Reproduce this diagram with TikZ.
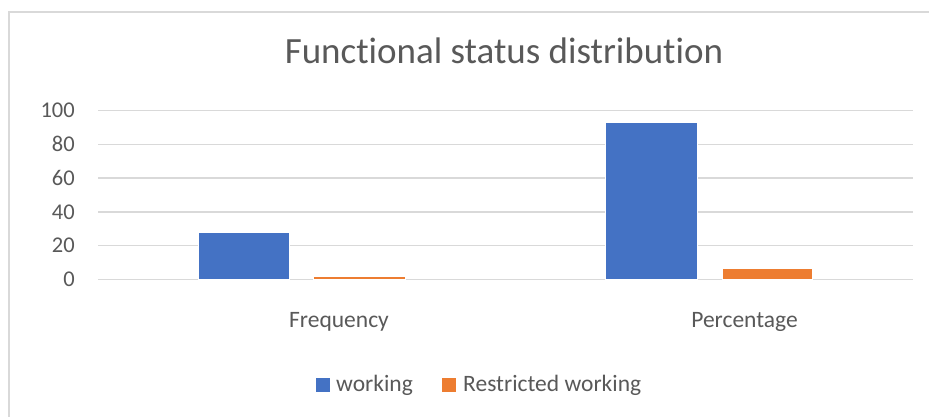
\documentclass[tikz,border=0pt]{standalone}
\usepackage{fontspec}
\setmainfont{Carlito}[Ligatures=NoCommon]
\usetikzlibrary{positioning}

\definecolor{wkblue}{HTML}{4472C4}
\definecolor{rsorange}{HTML}{ED7D31}
\definecolor{txtgray}{HTML}{595959}
\definecolor{gridgray}{HTML}{D9D9D9}

\begin{document}
\begin{tikzpicture}[x=1pt,y=-1pt,
 grid/.style={draw=gridgray,line width=1.5pt},
 tick/.style={anchor=base east,text=txtgray,font=\fontsize{22.5}{26}\selectfont,inner sep=0pt},
 cat/.style={anchor=base,text=txtgray,font=\fontsize{23.5}{27}\selectfont,inner sep=0pt},
 key/.style={anchor=base west,text=txtgray,font=\fontsize{23.5}{27}\selectfont,inner sep=0pt},
 bar/.style={draw=white,line width=0.6pt}]
\useasboundingbox[fill=white] (0,0) rectangle (929,417);
% chart frame
\draw[gridgray,line width=2pt] (8.5,417) -- (8.5,12) -- (929,12);
\node[anchor=base,text=txtgray,font=\fontsize{37}{44}\selectfont,inner sep=0pt] (title) at (504,63.3) {Functional status distribution};
% gridlines and value axis
\draw[grid] (98,279.3) -- (913,279.3); \node[tick] (t0) at (75,286.5) {0};
\draw[grid] (98,245.6) -- (913,245.6); \node[tick] (t20) at (75,252.8) {20};
\draw[grid] (98,211.9) -- (913,211.9); \node[tick] (t40) at (75,219.1) {40};
\draw[grid] (98,178.1) -- (913,178.1); \node[tick] (t60) at (75,185.3) {60};
\draw[grid] (98,144.4) -- (913,144.4); \node[tick] (t80) at (75,151.6) {80};
\draw[grid] (98,110.7) -- (913,110.7); \node[tick] (t100) at (75,117.9) {100};
% bars
\fill[wkblue,bar] (198.3,279.3) rectangle (289.3,232.1);
\fill[rsorange,bar] (313.5,279.3) rectangle (405,275.9);
\fill[wkblue,bar] (605.7,279.3) rectangle (697.3,122.0);
\fill[rsorange,bar] (722,279.3) rectangle (812.7,268.0);
\node[cat] (freq) at (339,327) {Frequency};
\node[cat] (perc) at (744.5,327) {Percentage};
% legend
\fill[wkblue] (316,378.3) rectangle (330,391.7);
\node[key] (lgw) at (336,391.7) {working};
\fill[rsorange] (442,378.3) rectangle (456,391.7);
\node[key] (lgr) at (463,391.7) {Restricted working};
\end{tikzpicture}
\end{document}
